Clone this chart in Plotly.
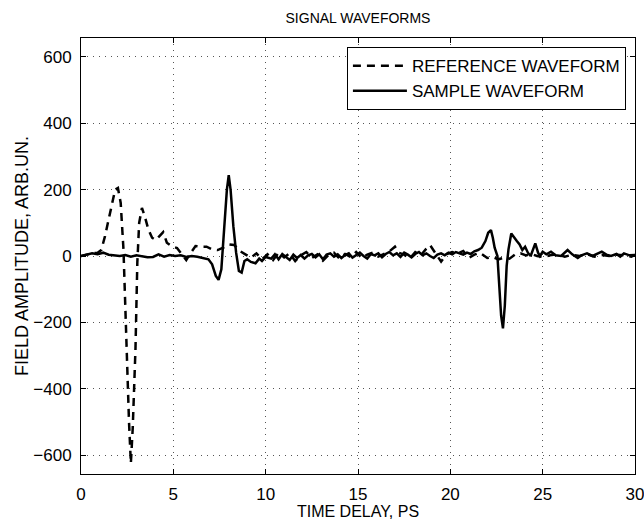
import plotly.graph_objects as go

# Time axis (ps) and amplitudes
ref_time = [0.0,0.3,0.6,0.9,1.1,1.3,1.5,1.7,1.85,2.0,
            2.15,2.3,2.45,2.6,2.7,2.8,2.95,3.05,3.15,3.3,
            3.45,3.65,3.85,4.05,4.25,4.45,4.65,4.9,5.2,5.45,
            5.7,5.95,6.2,6.45,6.8,7.1,7.4,7.7,8.0,8.3,
            8.6,8.9,9.2,9.5,9.8,10.1,10.4,10.7,11.0,11.3,
            11.6,11.9,12.2,12.5,12.8,13.1,13.4,13.7,14.0,14.3,
            14.6,14.9,15.2,15.5,15.8,16.1,16.4,16.7,17.0,17.2,
            17.5,17.8,18.1,18.4,18.7,18.9,19.2,19.5,19.8,20.1,
            20.4,20.7,21.0,21.3,21.6,22.0,22.3,22.6,22.9,23.2,
            23.5,23.8,24.1,24.4,24.7,25.0,25.4,25.8,26.2,26.6,
            27.0,27.4,27.8,28.2,28.6,29.0,29.4,29.8,30.0]
ref_values = [0,5,8,10,18,60,110,160,200,205,
              160,20,-250,-500,-625,-520,-280,-20,100,145,
              120,80,55,48,60,72,40,30,24,5,
              -12,10,30,28,28,20,18,25,35,33,
              15,5,-5,8,-10,5,-12,10,-4,8,
              -15,2,12,-6,5,-14,3,10,-8,6,
              -3,12,-6,4,10,-2,6,14,28,10,
              4,-8,12,2,22,33,8,-17,6,12,
              8,15,-6,4,10,-6,-3,-10,-5,-8,
              4,8,2,6,0,-3,2,5,-2,4,
              0,6,-2,3,0,4,2,-2,3]

sample_time = [0.0,0.3,0.6,0.9,1.2,1.5,1.8,2.1,2.4,2.7,
               3.0,3.3,3.6,3.9,4.2,4.5,4.8,5.1,5.4,5.7,
               6.0,6.3,6.6,6.9,7.1,7.3,7.45,7.6,7.75,7.9,
               8.0,8.1,8.25,8.4,8.55,8.7,8.85,9.0,9.2,9.45,
               9.65,9.8,10.0,10.3,10.5,10.7,10.9,11.1,11.3,11.5,
               11.7,11.9,12.1,12.3,12.5,12.7,12.9,13.1,13.3,13.5,
               13.7,13.9,14.1,14.3,14.5,14.7,14.9,15.1,15.3,15.5,
               15.7,15.9,16.1,16.3,16.5,16.7,16.9,17.1,17.3,17.5,
               17.7,17.9,18.1,18.3,18.5,18.7,18.9,19.1,19.3,19.5,
               19.7,19.9,20.1,20.3,20.5,20.7,20.9,21.1,21.3,21.5,
               21.7,21.9,22.05,22.2,22.3,22.4,22.55,22.65,22.75,22.85,
               22.95,23.05,23.15,23.3,23.45,23.6,23.75,23.9,24.05,24.2,
               24.35,24.5,24.6,24.75,24.85,25.0,25.2,25.45,25.7,26.0,
               26.2,26.35,26.6,26.9,27.1,27.4,27.7,27.9,28.2,28.45,
               28.7,29.0,29.2,29.4,29.7,30.0]
sample_values = [0,3,8,5,10,4,2,0,3,-2,
                 2,0,-4,-3,5,-2,3,0,2,-3,
                 0,-2,-5,-10,-25,-60,-72,-40,80,200,
                 244,200,90,10,-45,-50,-15,-10,-18,-22,
                 -8,-15,-3,-8,5,-10,6,-2,-12,4,
                 -6,3,-8,2,6,-4,5,-10,4,8,
                 -2,5,-6,3,8,-5,2,10,0,-8,
                 6,2,8,-4,6,12,2,8,-3,10,
                 4,-4,6,12,2,8,0,-6,4,8,
                 2,10,5,12,8,4,10,6,14,18,
                 25,45,70,78,55,25,0,-80,-180,-218,
                 -150,-30,20,68,55,45,35,18,28,10,
                 0,25,38,10,0,13,5,13,2,0,
                 10,18,5,-6,2,8,0,6,13,4,
                 0,6,-2,8,2,3]

x_ticks = [0, 5, 10, 15, 20, 25, 30]
y_ticks = [-600, -400, -200, 0, 200, 400, 600]
y_tick_text = ["\u2212600", "\u2212400", "\u2212200", "0", "200", "400", "600"]

FONT = "Liberation Sans, Arial, Helvetica, sans-serif"

fig = go.Figure()
fig.add_trace(go.Scatter(x=ref_time, y=ref_values, mode="lines",
                         name="REFERENCE WAVEFORM",
                         line=dict(color="black", width=2.5, dash="8px,6px")))
fig.add_trace(go.Scatter(x=sample_time, y=sample_values, mode="lines",
                         name="SAMPLE WAVEFORM",
                         line=dict(color="black", width=2.5)))

axis_common = dict(showline=True, linecolor="black", linewidth=1, mirror="ticks",
                   ticks="inside", ticklen=5, tickcolor="black",
                   showgrid=True, gridcolor="#555555", gridwidth=1, griddash="1px,5px",
                   zeroline=False, automargin=False, ticklabelstandoff=5,
                   ticklabeloverflow="allow",
                   tickfont=dict(family=FONT, size=17, color="black"))

fig.update_xaxes(range=[0, 30], tickvals=x_ticks,
                 title=dict(text="TIME DELAY, PS", font=dict(family=FONT, size=16, color="black"),
                            standoff=6),
                 **axis_common)
fig.update_yaxes(range=[-657, 657], tickvals=y_ticks, ticktext=y_tick_text,
                 title=dict(text="FIELD AMPLITUDE, ARB.UN.", font=dict(family=FONT, size=18, color="black"),
                            standoff=0),
                 **axis_common)

fig.update_layout(
    width=644, height=520,
    margin=dict(l=81, r=9, t=38, b=46),
    paper_bgcolor="white", plot_bgcolor="white",
    title=dict(text="SIGNAL WAVEFORMS", x=0.5, xanchor="center", xref="paper",
               y=1 - 18 / 520, yanchor="middle",
               font=dict(family=FONT, size=14, color="black"), automargin=False),
    legend=dict(x=0.48, y=0.979, xanchor="left", yanchor="top",
                bgcolor="white", bordercolor="black", borderwidth=1,
                font=dict(family=FONT, size=17, color="black"),
                itemwidth=54, tracegroupgap=0),
    showlegend=True,
)

fig.write_html("out.html",
               config={"displayModeBar": False},
               post_script="document.body.style.margin='0';document.body.style.padding='0';")
